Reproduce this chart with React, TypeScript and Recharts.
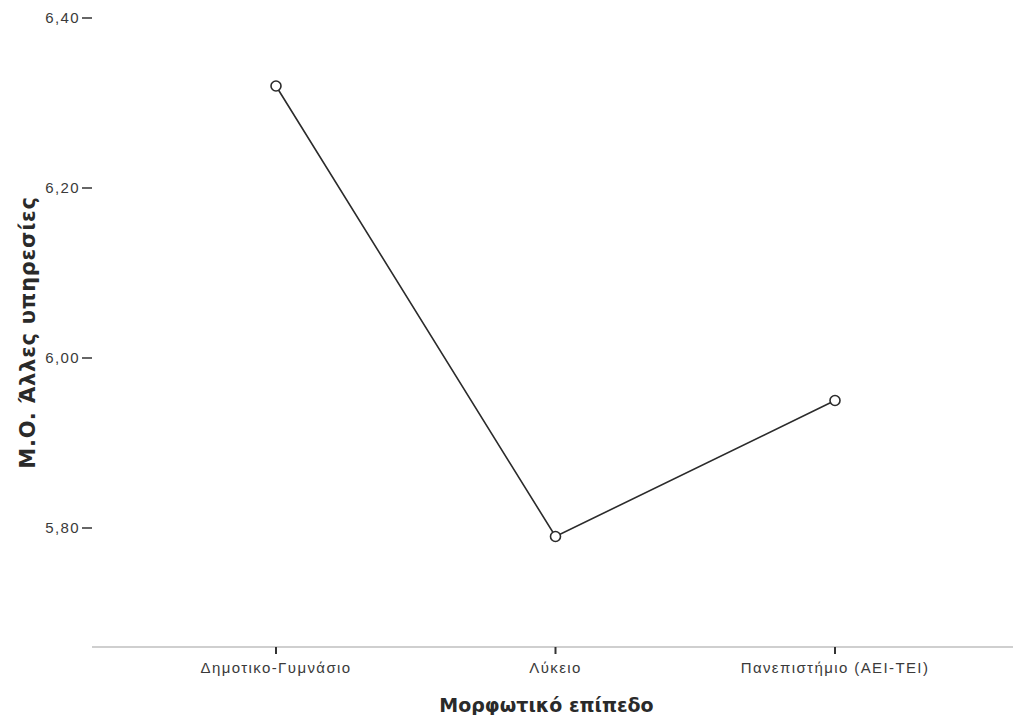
import React from 'react';
import { LineChart, Line, XAxis, YAxis, Label } from 'recharts';

// education levels (x categories)
const levels = ['Δημοτικο-Γυμνάσιο', 'Λύκειο', 'Πανεπιστήμιο (ΑΕΙ-ΤΕΙ)'];
// mean score "Άλλες υπηρεσίες" per level
const means = [6.32, 5.79, 5.95];
// y tick values
const yTicks = [5.8, 6.0, 6.2, 6.4];

const data = levels.map((level, i) => ({ level, mean: means[i] }));

const fmt = (v: number) => v.toFixed(2).replace('.', ',');

const tickFont = {
  fontFamily: 'Liberation Sans, Arial, sans-serif',
  fontSize: 15,
  letterSpacing: 1.4,
  fill: '#3a3a3a',
};
const titleFont = { fontFamily: 'DejaVu Sans, sans-serif', fontWeight: 700, fill: '#2a2a2a' };

export default function App() {
  return (
    <div style={{ position: 'absolute', left: 0, top: 0, background: '#fff' }}>
      <LineChart
        width={1013}
        height={715}
        data={data}
        margin={{ top: 18, right: 0, left: 0, bottom: 0 }}
      >
        <XAxis
          dataKey="level"
          type="category"
          padding={{ left: 184, right: 178 }}
          height={68}
          axisLine={{ stroke: '#cfcfcf', strokeWidth: 2 }}
          tickLine={{ stroke: '#333', strokeWidth: 2 }}
          tickSize={7}
          tickMargin={8}
          tick={tickFont}
          interval={0}
        >
          <Label
            value="Μορφωτικό επίπεδο"
            position="insideBottom"
            offset={3}
            dx={-6}
            style={{ ...titleFont, fontSize: 19 }}
          />
        </XAxis>
        <YAxis
          type="number"
          domain={[5.66, 6.4]}
          allowDataOverflow
          ticks={yTicks}
          tickFormatter={fmt}
          width={92}
          axisLine={false}
          tickLine={{ stroke: '#333', strokeWidth: 1.5 }}
          tickSize={10}
          tickMargin={2}
          tick={tickFont}
        >
          <Label
            value="M.O. Άλλες υπηρεσίες"
            angle={-90}
            position="insideLeft"
            offset={28}
            style={{ ...titleFont, fontSize: 21, letterSpacing: 0.75, textAnchor: 'middle' }}
          />
        </YAxis>
        <Line
          type="linear"
          dataKey="mean"
          stroke="#2b2b2b"
          strokeWidth={1.6}
          dot={{ r: 5, stroke: '#2b2b2b', strokeWidth: 1.6, fill: '#fff' }}
          isAnimationActive={false}
        />
      </LineChart>
    </div>
  );
}
